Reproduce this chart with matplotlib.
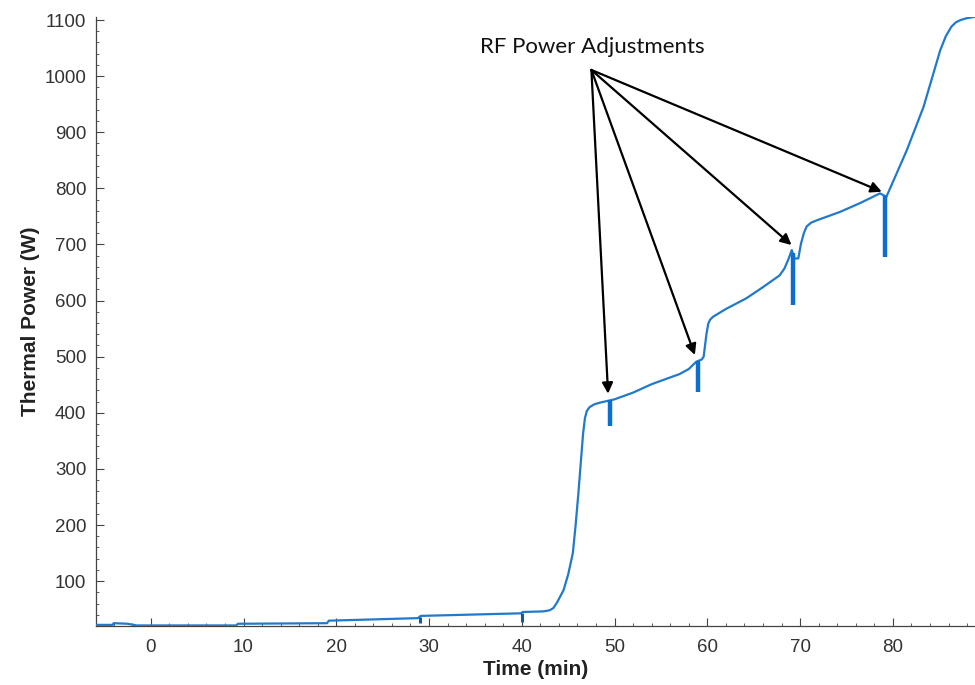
import numpy as np
import matplotlib
matplotlib.use('Agg')
import matplotlib.pyplot as plt
from matplotlib.ticker import MultipleLocator

# Thermal power trace
time_min = [-5.9, -4.1, -4.0, -2.5, -1.5, 0.0, 9.2, 9.4, 19.0, 19.2, 28.8, 29.1,
            39.9, 40.1, 42.3, 43.0, 43.4, 43.8, 44.5, 45.0, 45.5, 45.8, 46.1, 46.4,
            46.6, 46.8, 47.0, 47.3, 47.8, 48.4,
            50.0, 52.0, 54.0, 56.0, 57.0, 58.0, 58.8, 59.4, 59.6, 59.9, 60.1, 60.3,
            60.6, 62.0, 64.2, 66.0, 67.8, 68.3, 68.7, 69.1, 69.4, 69.8, 70.1, 70.4,
            70.7, 71.2, 71.8, 74.3, 76.5, 78.6, 79.3, 81.5, 83.3, 85.1, 85.7, 86.3,
            86.8, 87.3, 87.9, 88.9]
power_w = [22, 22, 25, 24, 21, 21, 21, 24, 25, 29.5, 34, 38,
           42.6, 45, 46, 48, 52, 62, 84, 112, 150, 200, 257, 320,
           362, 390, 403, 410, 415, 418,
           424, 436, 451, 463, 469, 478, 491, 495, 500, 540, 559, 566,
           571, 585, 604, 624, 645, 657, 672, 690, 675, 675, 702, 720,
           732, 739, 743, 758, 774, 791, 785, 868, 945, 1046, 1071, 1088,
           1096, 1100, 1103, 1106]

# downward spikes at the RF power adjustments
spike_times = [49.5, 59.0, 69.2, 79.1]
spike_bottoms = [376, 437, 592, 678]
# small glitches on the baseline
glitch_times = [29.0, 40.0]
glitch_bottoms = [26, 27]

# arrow tips (annotation targets)
arrow_x = [49.3, 58.65, 69.07, 78.8]
arrow_y = [434, 503, 699, 794]
label_xy = (47.5, 1011)

plt.rcParams['font.family'] = ['Liberation Sans', 'DejaVu Sans']

fig = plt.figure(figsize=(9.75, 6.85), dpi=100)
ax = fig.add_axes([96/975, 59/685, 879/975, 608.8/685])

line_col = '#2179cc'
ax.plot(time_min, power_w, color=line_col, lw=1.6, zorder=3)
tops = np.interp(spike_times, time_min, power_w)
ax.vlines(spike_times, spike_bottoms, tops, color='#0b6fd0', lw=3.2, zorder=3)
gtops = np.interp(glitch_times, time_min, power_w)
ax.vlines(glitch_times, glitch_bottoms, gtops, color='#1a5a90', lw=2.2, zorder=3)

ax.set_xlim(-5.9, 88.85)
ax.set_ylim(20, 1105)
ax.xaxis.set_minor_locator(MultipleLocator(2))
ax.yaxis.set_minor_locator(MultipleLocator(20))
ax.set_xticks(np.arange(0, 81, 10))
ax.set_yticks(np.arange(100, 1101, 100))

for s in ['top', 'right']:
    ax.spines[s].set_visible(False)
for s in ['left', 'bottom']:
    ax.spines[s].set_color('#444444')
    ax.spines[s].set_linewidth(0.9)

ax.tick_params(which='both', direction='in', colors='#444444', labelcolor='#333333',
               labelsize=13.5)
ax.tick_params(which='major', length=6, width=0.8)
ax.tick_params(axis='x', which='major', pad=9)
ax.tick_params(axis='y', which='major', pad=7)
ax.tick_params(which='minor', length=2.5, width=0.6)

ax.set_xlabel('Time (min)', fontsize=15, fontweight='bold', color='#222222', labelpad=3)
ax.set_ylabel('Thermal Power (W)', fontsize=15, fontweight='bold', color='#222222', labelpad=3)

ax.text(47.6, 1052, 'RF Power Adjustments', ha='center', va='center', fontsize=16,
        family=['Lato', 'DejaVu Sans'], color='#111111', clip_on=False)
for xt, yt in zip(arrow_x, arrow_y):
    ax.annotate('', xy=(xt, yt), xytext=label_xy,
                arrowprops=dict(arrowstyle='-|>', color='black', lw=1.6,
                                mutation_scale=16, shrinkA=0, shrinkB=0),
                annotation_clip=False, zorder=4)

fig.savefig('out.png', dpi=100)
